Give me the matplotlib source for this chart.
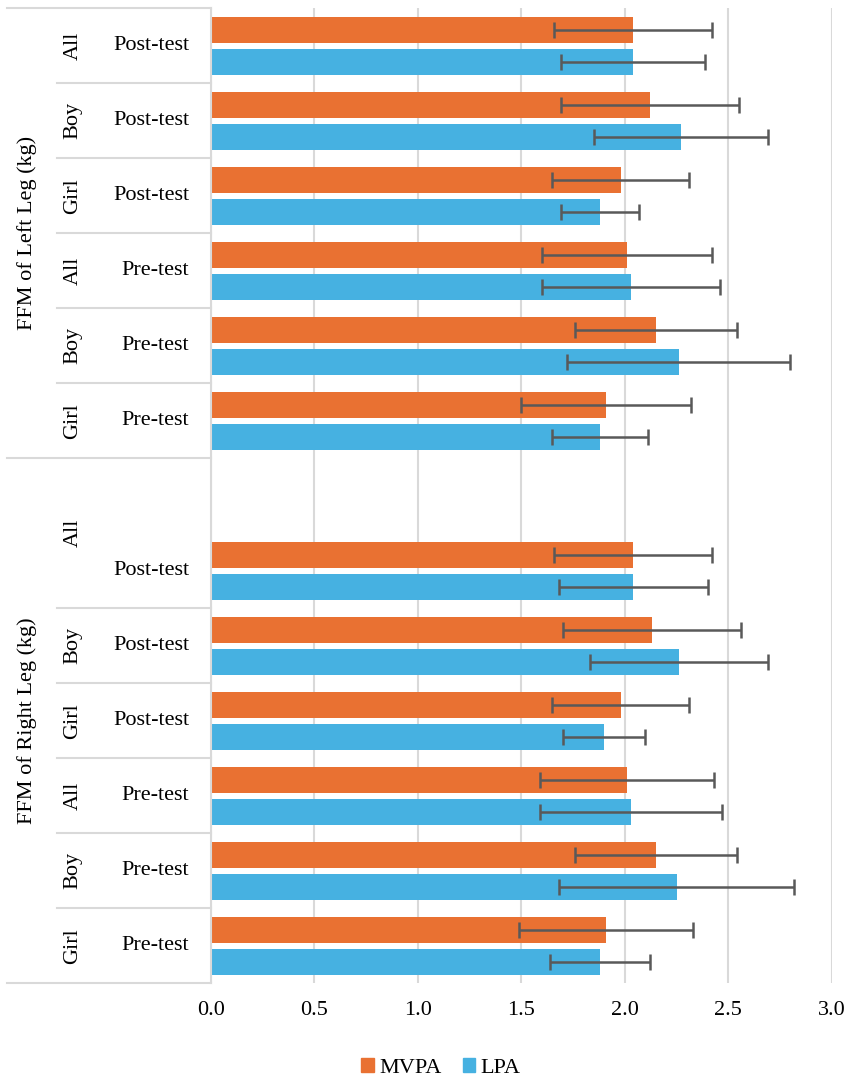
import numpy as np
import matplotlib
matplotlib.use("Agg")
import matplotlib.pyplot as plt
from matplotlib.patches import Patch

plt.rcParams['font.family'] = ['Liberation Serif', 'DejaVu Serif']

# ---- data (top to bottom) ----
leg = ["FFM of Left Leg (kg)"] * 6 + ["FFM of Right Leg (kg)"] * 7
sex = ["All", "Boy", "Girl", "All", "Boy", "Girl",
       "All", "All", "Boy", "Girl", "All", "Boy", "Girl"]
test = ["Post-test", "Post-test", "Post-test", "Pre-test", "Pre-test", "Pre-test",
        "", "Post-test", "Post-test", "Post-test", "Pre-test", "Pre-test", "Pre-test"]
mvpa = [2.04, 2.12, 1.98, 2.01, 2.15, 1.91,
        np.nan, 2.04, 2.13, 1.98, 2.01, 2.15, 1.91]
mvpa_sd = [0.38, 0.43, 0.33, 0.41, 0.39, 0.41,
           np.nan, 0.38, 0.43, 0.33, 0.42, 0.39, 0.42]
lpa = [2.04, 2.27, 1.88, 2.03, 2.26, 1.88,
       np.nan, 2.04, 2.26, 1.90, 2.03, 2.25, 1.88]
lpa_sd = [0.35, 0.42, 0.19, 0.43, 0.54, 0.23,
          np.nan, 0.36, 0.43, 0.20, 0.44, 0.57, 0.24]
xticks = [0.0, 0.5, 1.0, 1.5, 2.0, 2.5, 3.0]
series_names = ["MVPA", "LPA"]

C_MVPA = "#E97132"
C_LPA = "#46B1E1"
C_GRID = "#D9D9D9"
C_ERR = "#595959"
FS = 16

W, H = 851, 1083
fig = plt.figure(figsize=(W / 100, H / 100), dpi=100)
left_px, right_px = 211, 831.7
top_px, bot_px = 8.3, 983.3
ax = fig.add_axes([left_px / W, 1 - bot_px / H, (right_px - left_px) / W, (bot_px - top_px) / H])

n = len(test)
y = np.arange(n)
off = 0.213
bh = 0.347
ax.barh(y - off, mvpa, height=bh, color=C_MVPA, zorder=2)
ax.barh(y + off, lpa, height=bh, color=C_LPA, zorder=2)
ax.errorbar(mvpa, y - off, xerr=mvpa_sd, fmt='none', ecolor=C_ERR, elinewidth=1.8,
            capsize=5.5, capthick=1.8, zorder=3)
ax.errorbar(lpa, y + off, xerr=lpa_sd, fmt='none', ecolor=C_ERR, elinewidth=1.8,
            capsize=5.5, capthick=1.8, zorder=3)

ax.set_xlim(0, 3.0)
ax.set_ylim(n - 0.5, -0.5)
ax.set_xticks(xticks)
ax.set_xticklabels([f"{v:.1f}" for v in xticks], fontsize=FS)
ax.tick_params(axis='x', length=0, pad=13)
ax.set_yticks([])
ax.xaxis.grid(True, color=C_GRID, lw=1.5, zorder=0)
ax.set_axisbelow(True)
for s in ['top', 'right', 'bottom']:
    ax.spines[s].set_visible(False)
ax.spines['left'].set_color(C_GRID)
ax.spines['left'].set_linewidth(1.5)

# ---- multi-level category axis ----
tr = ax.get_yaxis_transform()
axw = right_px - left_px
def ax_x(px):
    return (px - left_px) / axw

x_outer = ax_x(7)
x_mid = ax_x(57)
lkw = dict(color=C_GRID, lw=1.5, transform=tr, clip_on=False)
ax.plot([x_outer, 0], [-0.5, -0.5], **lkw)
ax.plot([x_outer, 0], [n - 0.5, n - 0.5], **lkw)
for i in range(1, n):
    if leg[i] != leg[i - 1]:
        ax.plot([x_outer, 0], [i - 0.5, i - 0.5], **lkw)
    elif sex[i] != sex[i - 1]:
        ax.plot([x_mid, 0], [i - 0.5, i - 0.5], **lkw)

# level 3 labels
for i, t in enumerate(test):
    if t:
        ax.text(ax_x(189), i, t, transform=tr, ha='right', va='center', fontsize=FS)

# level 2 labels (runs of same leg+sex)
i = 0
while i < n:
    j = i
    while j + 1 < n and leg[j + 1] == leg[i] and sex[j + 1] == sex[i]:
        j += 1
    ax.text(ax_x(73), (i + j) / 2, sex[i], transform=tr, ha='center', va='center',
            rotation=90, fontsize=FS)
    i = j + 1

# level 1 labels
i = 0
while i < n:
    j = i
    while j + 1 < n and leg[j + 1] == leg[i]:
        j += 1
    ax.text(ax_x(27), (i + j) / 2, leg[i], transform=tr, ha='center', va='center',
            rotation=90, fontsize=FS)
    i = j + 1

handles = [Patch(color=C_MVPA), Patch(color=C_LPA)]
fig.legend(handles, series_names, loc='center', bbox_to_anchor=(441 / W, 1 - 1068 / H),
           ncol=2, frameon=False, fontsize=FS, handlelength=0.55, handleheight=0.55,
           handletextpad=0.25, columnspacing=0.95)

fig.savefig("out.png", dpi=100)
